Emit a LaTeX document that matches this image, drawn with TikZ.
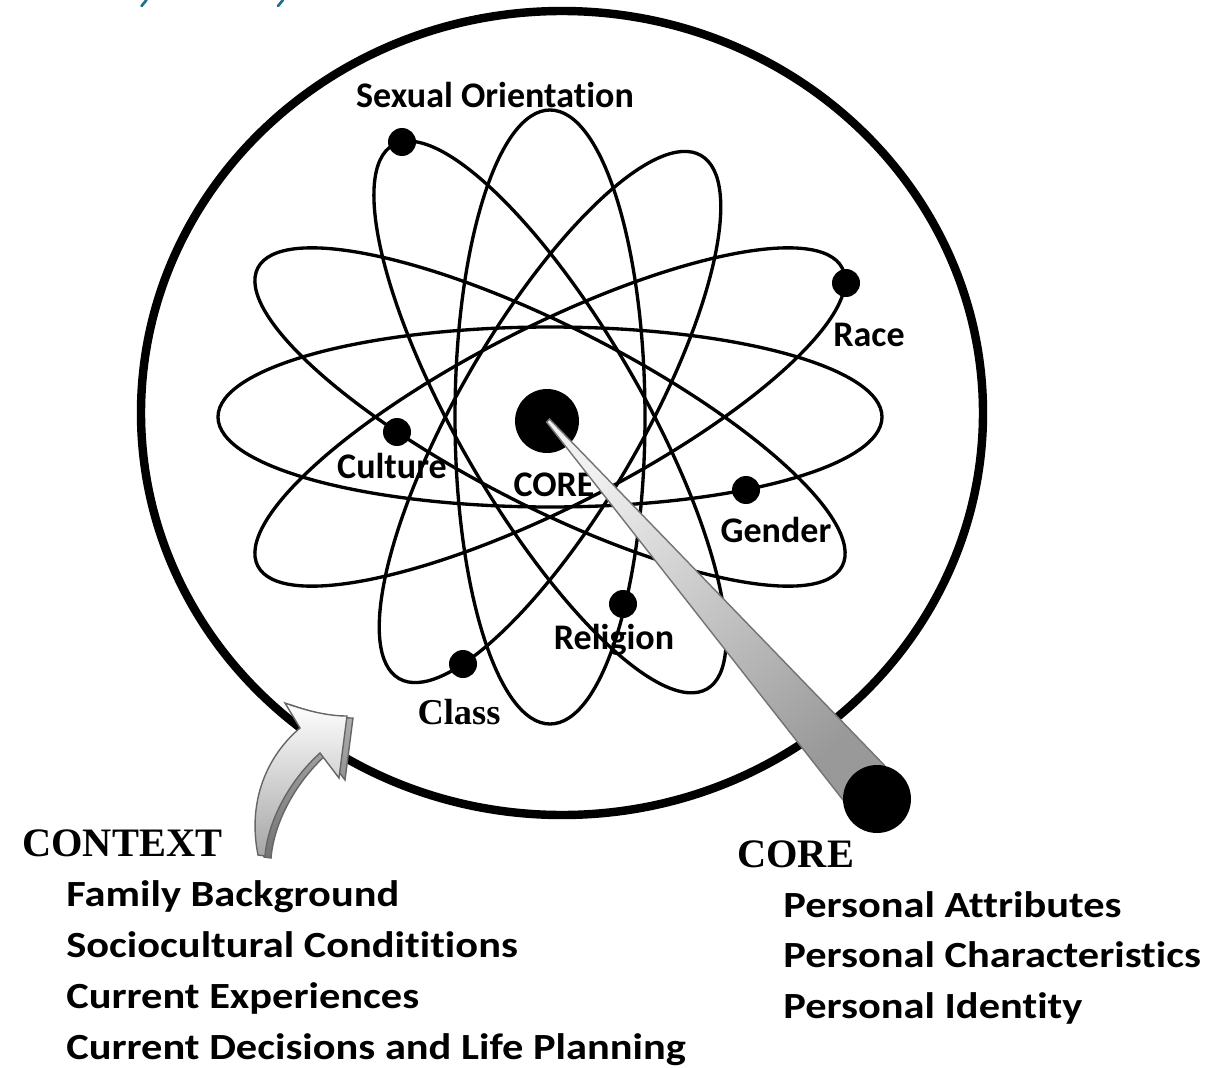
\documentclass[tikz,border=0pt]{standalone}
\usepackage{graphicx}
\usepackage{fontspec}
\setmainfont{Carlito}[Ligatures={NoCommon}]
\newfontfamily\tnrfont{Liberation Serif}
\newcommand\stretchtxt[1]{\scalebox{1.15}[1]{#1}}
\definecolor{tealmark}{HTML}{1F6E8C}
\begin{document}
\begin{tikzpicture}[x=0.02cm,y=-0.02cm,
  orbit/.style={line width=1.9pt},
  electron/.style={circle, fill=black, inner sep=0pt, minimum size=0.56cm},
  lbl/.style={font=\bfseries\fontsize{20.5pt}{24pt}\selectfont, inner sep=0pt, anchor=base},
  serifhead/.style={font=\tnrfont\bfseries\fontsize{23pt}{27pt}\selectfont, inner sep=0pt, anchor=base west},
  listitem/.style={font=\bfseries\fontsize{21pt}{25pt}\selectfont, inner sep=0pt, anchor=base west}]
\useasboundingbox (0,0) rectangle (1207,1068);
\fill[white] (0,0) rectangle (1207,1068);

% cut-off teal fragments at the top edge
\draw[tealmark, line width=1.5pt, line cap=round] (146.5,0) -- (141.5,6);
\draw[tealmark, line width=1.5pt, line cap=round] (283,0) -- (278,6);

% outer circle (context)
\draw[line width=4.8pt] (562,413) ellipse (421 and 402);

% orbits
\coordinate (c) at (550,417);
\draw[orbit] (c) ellipse (332 and 90);
\draw[orbit] (c) ellipse (95 and 307);
\draw[orbit, rotate around={-27:(c)}] (c) ellipse (328 and 90);
\draw[orbit, rotate around={27:(c)}] (c) ellipse (328 and 90);
\draw[orbit, rotate around={-60:(c)}] (c) ellipse (314 and 92);
\draw[orbit, rotate around={60:(c)}] (c) ellipse (302 and 92);

% electrons
\node[electron] (dSex) at (402,142) {};
\node[electron] (dRace) at (846,283) {};
\node[electron] (dCult) at (397,432) {};
\node[electron] (dGend) at (746,490) {};
\node[electron] (dRel) at (623,604) {};
\node[electron] (dClass) at (463,664) {};

% labels
\node[lbl] (tSex) at (495,108) {Sexual Orientation};
\node[lbl] (tRace) at (869,346) {Race};
\node[lbl] (tCult) at (392,478) {Culture};
\node[lbl] (tCore) at (554,496) {CORE};
\node[lbl] (tGend) at (776,542) {Gender};
\node[lbl] (tRel) at (614,649) {Religion};
\node[font=\tnrfont\bfseries\fontsize{20.7pt}{24pt}\selectfont, inner sep=0pt, anchor=base] (tClass) at (459,724) {Class};

% nucleus
\node[circle, fill=black, inner sep=0pt, minimum size=1.28cm] (nuc) at (547,421) {};

% pointer cone
\coordinate (tipA) at (546.5,422);
\coordinate (tipB) at (549.5,419);
\coordinate (baseA) at (884.4,765.3);
\coordinate (baseB) at (843.6,800.7);
\path[draw=black!55, line width=0.8pt, top color=black!6, bottom color=black!40, shading angle=41]
  (tipA) -- (tipB) -- (baseA) -- (baseB) -- cycle;
\node[circle, fill=black, inner sep=0pt, minimum size=1.36cm] (ball) at (877,799) {};

% curved context arrow (3D)
\path[draw=black!60, line width=0.8pt, top color=black!30, bottom color=black!55, shift={(6,2)}]
  (258,855) .. controls (247,800) and (268,755) .. (300,728) -- (285,703)
  .. controls (310,712) and (330,716) .. (347,716) -- (339,778) -- (320,753)
  .. controls (290,780) and (268,820) .. (265,856) -- cycle;
\path[draw=black!60, line width=0.8pt, top color=white, bottom color=black!35]
  (258,855) .. controls (247,800) and (268,755) .. (300,728) -- (285,703)
  .. controls (310,712) and (330,716) .. (347,716) -- (339,778) -- (320,753)
  .. controls (290,780) and (268,820) .. (265,856) -- cycle;

% bottom texts
\node[serifhead] (ctx) at (22,856) {CONTEXT};
\node[listitem] (l1) at (66,906) {\stretchtxt{Family Background}};
\node[listitem] (l2) at (66,957) {\stretchtxt{Sociocultural Condititions}};
\node[listitem] (l3) at (66,1008) {\stretchtxt{Current Experiences}};
\node[listitem] (l4) at (66,1059) {\stretchtxt{Current Decisions and Life Planning}};
\node[serifhead] (core) at (737,867) {CORE};
\node[listitem] (r1) at (783,917) {\stretchtxt{Personal Attributes}};
\node[listitem] (r2) at (783,967) {\stretchtxt{Personal Characteristics}};
\node[listitem] (r3) at (783,1018) {\stretchtxt{Personal Identity}};
\end{tikzpicture}
\end{document}
